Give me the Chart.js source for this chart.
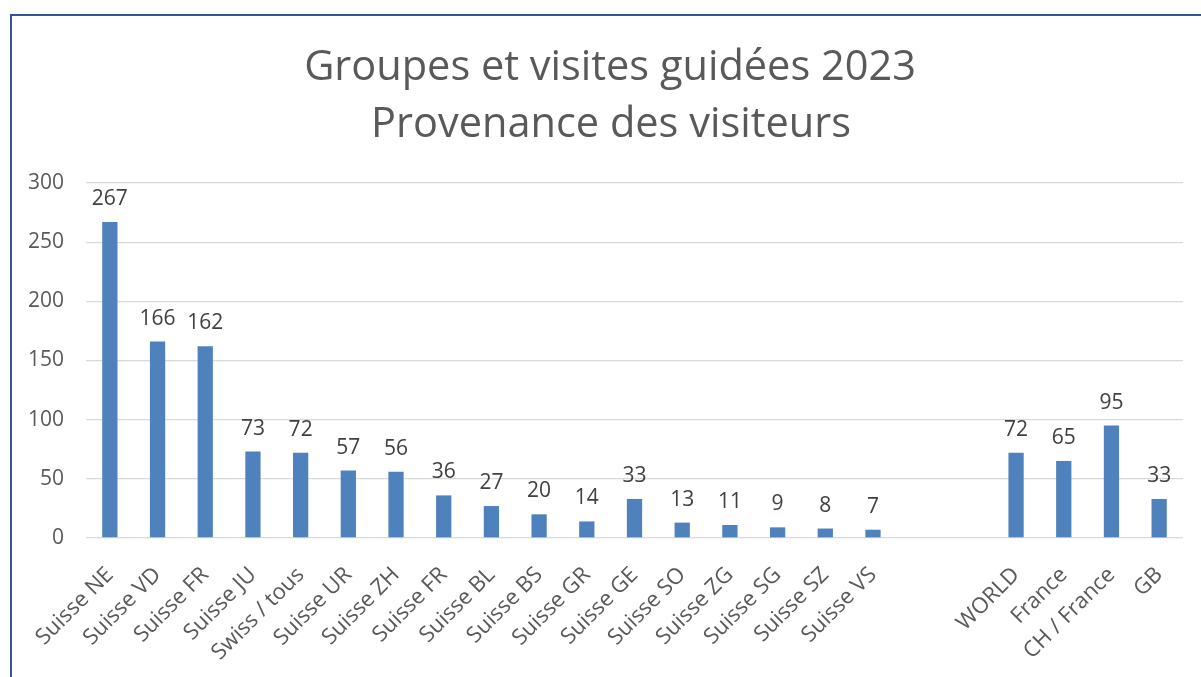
<!DOCTYPE html>
<html>
<head>
<meta charset="utf-8">
<script src="https://cdn.jsdelivr.net/npm/chart.js@4/dist/chart.umd.min.js"></script>
<style>
  html, body { margin: 0; padding: 0; background: #fff; }
  #wrap { position: relative; width: 1201px; height: 677px; overflow: hidden; }
  #cadre { position: absolute; left: 10px; top: 14px; width: 1300px; height: 800px;
           border: 2px solid #2F5597; pointer-events: none; }
</style>
</head>
<body>
<div id="wrap">
  <canvas id="graphique" width="1201" height="677"></canvas>
  <div id="cadre"></div>
</div>
<script>
const titre = ["Groupes et visites guidées 2023", "Provenance des visiteurs"];
const categories = ["Suisse NE", "Suisse VD", "Suisse FR", "Suisse JU", "Swiss / tous", "Suisse UR",
  "Suisse ZH", "Suisse FR", "Suisse BL", "Suisse BS", "Suisse GR", "Suisse GE", "Suisse SO",
  "Suisse ZG", "Suisse SG", "Suisse SZ", "Suisse VS", "", "", "WORLD", "France", "CH / France", "GB"];
const visiteurs = [267, 166, 162, 73, 72, 57, 56, 36, 27, 20, 14, 33, 13, 11, 9, 8, 7, null, null, 72, 65, 95, 33];
const graduations = [0, 50, 100, 150, 200, 250, 300];

const police = "'Open Sans', sans-serif";

// titre centré sur le cadre (pas sur la zone du graphique)
const titreCadre = {
    id: "titreCadre",
    beforeDraw(chart) {
        const ctx = chart.ctx;
        ctx.save();
        ctx.font = "41.5px " + police;
        ctx.fillStyle = "#595959";
        ctx.textAlign = "center";
        ctx.textBaseline = "middle";
        ctx.fillText(titre[0], 610, 68);
        ctx.fillText(titre[1], 611, 125);
        ctx.restore();
    }
};

// valeurs au-dessus des barres
const etiquettes = {
    id: "etiquettes",
    afterDatasetsDraw(chart) {
        const ctx = chart.ctx;
        ctx.save();
        ctx.font = "21px " + police;
        ctx.fillStyle = "#404040";
        ctx.textAlign = "center";
        ctx.textBaseline = "middle";
        chart.getDatasetMeta(0).data.forEach((barre, i) => {
            const v = visiteurs[i];
            if (v === null) return;
            ctx.fillText(String(v), barre.x, barre.y - 23);
        });
        ctx.restore();
    }
};

new Chart(document.getElementById("graphique").getContext("2d"), {
    type: "bar",
    data: {
        labels: categories,
        datasets: [{
            data: visiteurs,
            backgroundColor: "#4F81BD",
            barPercentage: 0.32,
            categoryPercentage: 1
        }]
    },
    options: {
        responsive: false,
        animation: false,
        layout: { padding: { left: 0, right: 18, top: 183, bottom: 0 } },
        plugins: {
            legend: { display: false },
            tooltip: { enabled: false },
            title: { display: false }
        },
        scales: {
            x: {
                grid: { display: false },
                border: { display: false },
                ticks: {
                    color: "#595959",
                    font: { family: police, size: 22 },
                    minRotation: 45,
                    maxRotation: 45,
                    autoSkip: false,
                    padding: 16
                },
                afterFit(scale) { scale.height = 139; }
            },
            y: {
                min: 0,
                max: 300,
                afterBuildTicks(scale) { scale.ticks = graduations.map(v => ({ value: v })); },
                grid: { color: "#D9D9D9", lineWidth: 1.3, drawTicks: false },
                border: { display: false },
                ticks: {
                    color: "#595959",
                    font: { family: police, size: 21 },
                    padding: 22
                },
                afterFit(scale) { scale.width = 86; }
            }
        }
    },
    plugins: [titreCadre, etiquettes]
});
</script>
</body>
</html>
